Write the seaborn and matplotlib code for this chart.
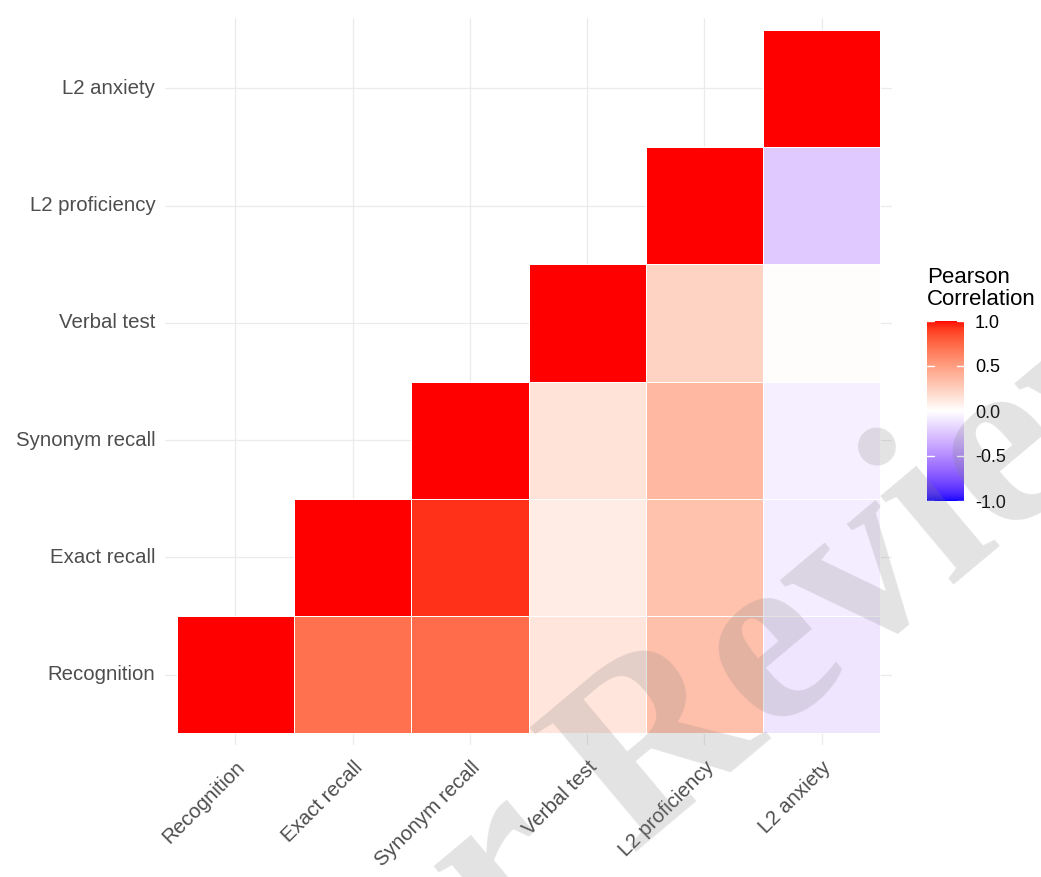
import numpy as np
import pandas as pd
import matplotlib
matplotlib.use("Agg")
import matplotlib.pyplot as plt
from matplotlib.colors import ListedColormap
import seaborn as sns

# ---------------- data ----------------
variables = ["Recognition", "Exact recall", "Synonym recall",
             "Verbal test", "L2 proficiency", "L2 anxiety"]
r_recognition = [1.00, 0.71, 0.73, 0.14, 0.33, -0.11]
r_exact = [0.71, 1.00, 0.93, 0.10, 0.32, -0.08]
r_synonym = [0.73, 0.93, 1.00, 0.15, 0.37, -0.07]
r_verbal = [0.14, 0.10, 0.15, 1.00, 0.23, 0.01]
r_proficiency = [0.33, 0.32, 0.37, 0.23, 1.00, -0.23]
r_anxiety = [-0.11, -0.08, -0.07, 0.01, -0.23, 1.00]
legend_title = "Pearson\nCorrelation"
cbar_ticks = [-1.0, -0.5, 0.0, 0.5, 1.0]
cbar_ticklabels = ["-1.0", "-0.5", "0.0", "0.5", "1.0"]
watermark_a = "For Peer"
watermark_b = "Review"

corr = pd.DataFrame([r_recognition, r_exact, r_synonym, r_verbal,
                     r_proficiency, r_anxiety],
                    index=variables, columns=variables)

# ------------- Lab diverging palette (like ggplot gradient2) -------------
M = np.array([[0.4124, 0.3576, 0.1805],
              [0.2126, 0.7152, 0.0722],
              [0.0193, 0.1192, 0.9505]])
WHITE = M @ np.ones(3)


def rgb2lab(rgb):
    c = np.asarray(rgb, float)
    lin = np.where(c <= 0.04045, c / 12.92, ((c + 0.055) / 1.055) ** 2.4)
    xyz = M @ lin / WHITE
    f = np.where(xyz > (6 / 29) ** 3, np.cbrt(xyz), xyz / (3 * (6 / 29) ** 2) + 4 / 29)
    return np.array([116 * f[1] - 16, 500 * (f[0] - f[1]), 200 * (f[1] - f[2])])


def lab2rgb(lab):
    L, a, b = lab
    fy_ = (L + 16) / 116
    f = np.array([fy_ + a / 500, fy_, fy_ - b / 200])
    xyz = np.where(f > 6 / 29, f ** 3, 3 * (6 / 29) ** 2 * (f - 4 / 29)) * WHITE
    lin = np.clip(np.linalg.solve(M, xyz), 0, 1)
    c = np.where(lin <= 0.0031308, 12.92 * lin, 1.055 * lin ** (1 / 2.4) - 0.055)
    return np.clip(c, 0, 1)


lab_low = rgb2lab([0, 0, 1])
lab_mid = rgb2lab([1, 1, 1])
lab_high = rgb2lab([1, 0, 0])
cols = []
for v in np.linspace(-1, 1, 512):
    if v < 0:
        lab = lab_mid + (lab_low - lab_mid) * (-v)
    else:
        lab = lab_mid + (lab_high - lab_mid) * v
    cols.append(lab2rgb(lab))
cmap = ListedColormap(cols)

# ---------------- plotting ----------------
sns.set_theme(style="white")
plt.rcParams["font.family"] = ["Liberation Sans", "DejaVu Sans"]

W, H = 1041, 877
fig = plt.figure(figsize=(W / 100, H / 100), dpi=100)


def fx(px):
    return px / W


def fy(py):
    return 1 - py / H


ax = fig.add_axes([fx(165), fy(745), fx(892) - fx(165), fy(18) - fy(745)])
cax = fig.add_axes([fx(927), fy(501), fx(964) - fx(927), fy(321) - fy(501)])

plot_df = corr.iloc[::-1, :]
n = len(variables)
mask = np.zeros((n, n), dtype=bool)
for r in range(n):
    yi = n - 1 - r
    for j in range(n):
        if j < yi:
            mask[r, j] = True

sns.heatmap(plot_df, mask=mask, cmap=cmap, vmin=-1, vmax=1,
            linewidths=0.7, linecolor="white", ax=ax, cbar_ax=cax,
            cbar_kws={"ticks": cbar_ticks})

# white borders only around drawn tiles
mesh = ax.collections[0]
ec = np.array([[0, 0, 0, 0] if m else [1, 1, 1, 1] for m in mask.ravel()], float)
mesh.set_edgecolor(ec)

ax.set_xlim(-0.1, n + 0.1)
ax.set_ylim(n + 0.1, -0.1)
ax.set_aspect("auto")
ax.set_axisbelow(True)
ax.grid(True, color="#EBEBEB", linewidth=0.9)
for s in ax.spines.values():
    s.set_visible(False)
ax.set_xlabel("")
ax.set_ylabel("")
ax.tick_params(axis="both", length=0, colors="#4D4D4D", labelsize=14.7)
ax.tick_params(axis="y", pad=7)
ax.tick_params(axis="x", pad=9)
ax.set_yticklabels(plot_df.index, rotation=0, color="#4D4D4D")
ax.set_xticklabels(variables, rotation=45, ha="right",
                   rotation_mode="anchor", color="#4D4D4D")

# colorbar styling
cbar = mesh.colorbar
cbar.outline.set_visible(False)
cax.tick_params(length=0, labelsize=13, colors="black", pad=8)
cax.set_yticklabels(cbar_ticklabels)
tr = cax.get_yaxis_transform()
for tv in cbar_ticks:
    cax.plot([0, 0.2], [tv, tv], color="white", lw=1, transform=tr, clip_on=False)
    cax.plot([0.8, 1.0], [tv, tv], color="white", lw=1, transform=tr, clip_on=False)
fig.text(fx(927), fy(267), legend_title, ha="left", va="top",
         fontsize=16, color="black", linespacing=1.05)

# watermark
wm_kw = dict(fontsize=180, family="Liberation Serif", weight="bold",
             color="#808080", alpha=0.22, rotation=40, rotation_mode="anchor",
             va="baseline", transform=fig.transFigure, zorder=10)
fig.text(fx(630), fy(852), watermark_b, ha="left", **wm_kw)
fig.text(fx(588), fy(887), watermark_a, ha="right", **wm_kw)

fig.savefig("out.png", dpi=100, facecolor="white")
